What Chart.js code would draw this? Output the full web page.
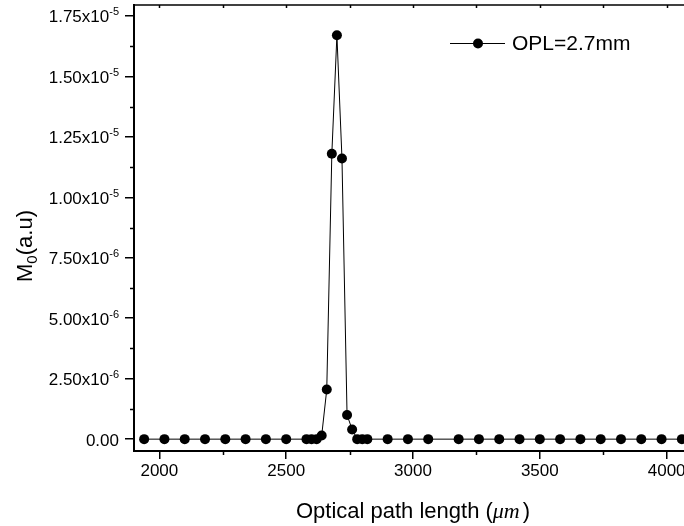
<!DOCTYPE html>
<html>
<head>
<meta charset="utf-8">
<script src="https://cdn.jsdelivr.net/npm/chart.js@4.4.1/dist/chart.umd.min.js"></script>
<style>
  html, body { margin: 0; padding: 0; background: #fff; overflow: hidden; }
  #chart { display: block; }
</style>
</head>
<body>
<canvas id="chart" width="720" height="526"></canvas>
<script>
// optical path length (um) and M0 (a.u)
const opl = [1940, 2020, 2100, 2180, 2260, 2340, 2420, 2500, 2580, 2600, 2620, 2640,
             2660, 2680, 2700, 2720, 2740, 2760, 2780, 2800, 2820, 2900, 2980, 3060,
             3180, 3260, 3340, 3420, 3500, 3580, 3660, 3740, 3820, 3900, 3980, 4060];
const m0 = [0, 0, 0, 0, 0, 0, 0, 0, 0, 0, 0, 1.5e-7,
            2.05e-6, 1.18e-5, 1.67e-5, 1.16e-5, 1.0e-6, 4.0e-7, 0, 0, 0, 0, 0, 0,
            0, 0, 0, 0, 0, 0, 0, 0, 0, 0, 0, 0];
const seriesLabel = 'OPL=2.7mm';

const xTicks = [2000, 2500, 3000, 3500, 4000];
const yTicks = [0, 2.5e-6, 5e-6, 7.5e-6, 1e-5, 1.25e-5, 1.5e-5, 1.75e-5];
const xRange = [1900, 4100];
const yRange = [-4.9e-7, 1.795e-5];

const FONT = '"Liberation Sans", Arial, sans-serif';
const SERIF = '"Liberation Serif", "DejaVu Serif", serif';

// frame, minor ticks, sci-notation labels, titles and legend
const extras = {
    id: 'extras',
    afterDraw(chart) {
        const ctx = chart.ctx;
        const area = chart.chartArea;
        const xs = chart.scales.x;
        const ys = chart.scales.y;
        ctx.save();
        ctx.strokeStyle = '#000';
        ctx.fillStyle = '#000';

        // top frame
        ctx.lineWidth = 1.5;
        ctx.beginPath();
        ctx.moveTo(area.left, area.top);
        ctx.lineTo(area.right, area.top);
        ctx.stroke();

        // x ticks: minor below, all inward on top
        const xStep = xTicks[1] - xTicks[0];
        for (let v = xTicks[0] - xStep / 2; v <= xs.max; v += xStep / 2) {
            if (v < xs.min) continue;
            const px = Math.round(xs.getPixelForValue(v)) + 0.5;
            const major = xTicks.includes(v);
            ctx.beginPath();
            if (!major) {
                ctx.moveTo(px, area.bottom);
                ctx.lineTo(px, area.bottom + 4);
            }
            ctx.moveTo(px, area.top);
            ctx.lineTo(px, area.top + 3);
            ctx.stroke();
        }

        // y minor ticks
        const yStep = yTicks[1] - yTicks[0];
        for (let i = 0; i < yTicks.length; i++) {
            const v = yTicks[i] + yStep / 2;
            if (v > ys.max) continue;
            const py = Math.round(ys.getPixelForValue(v)) + 0.5;
            ctx.beginPath();
            ctx.moveTo(area.left, py);
            ctx.lineTo(area.left - 4, py);
            ctx.stroke();
        }

        // y tick labels like 1.75x10^-5
        const right = area.left - 15;
        yTicks.forEach(v => {
            const py = ys.getPixelForValue(v);
            ctx.textBaseline = 'alphabetic';
            ctx.textAlign = 'right';
            if (v === 0) {
                ctx.font = '17px ' + FONT;
                ctx.fillText('0.00', right, py + 6.5);
                return;
            }
            const e = Math.floor(Math.log10(v) + 1e-9);
            const mant = (v / Math.pow(10, e)).toFixed(2);
            ctx.font = '11px ' + FONT;
            const sup = String(e);
            const supW = ctx.measureText(sup).width;
            ctx.fillText(sup, right, py - 0.5);
            ctx.font = '17px ' + FONT;
            ctx.fillText(mant + 'x10', right - supW, py + 6.5);
        });

        // x title with italic um
        const t1 = 'Optical path length (';
        const t2 = '\u03bcm';
        const t3 = ')';
        ctx.textAlign = 'left';
        ctx.font = '22px ' + FONT;
        const w1 = ctx.measureText(t1).width;
        const w3 = ctx.measureText(t3).width;
        ctx.font = 'italic 22px ' + SERIF;
        const w2 = ctx.measureText(t2).width + 3;
        const tx = (area.left + area.right) / 2 - (w1 + w2 + w3) / 2;
        const ty = 518;
        ctx.font = '22px ' + FONT;
        ctx.fillText(t1, tx, ty);
        ctx.font = 'italic 22px ' + SERIF;
        ctx.fillText(t2, tx + w1, ty);
        ctx.font = '22px ' + FONT;
        ctx.fillText(t3, tx + w1 + w2, ty);

        // y title M0(a.u), rotated
        ctx.save();
        ctx.translate(32, 246);
        ctx.rotate(-Math.PI / 2);
        ctx.font = '22px ' + FONT;
        const mW = ctx.measureText('M').width;
        const rest = '(a.u)';
        const rW = ctx.measureText(rest).width;
        ctx.font = '15px ' + FONT;
        const sW = ctx.measureText('0').width;
        const sx = -(mW + sW + rW) / 2;
        ctx.font = '22px ' + FONT;
        ctx.fillText('M', sx, 0);
        ctx.font = '15px ' + FONT;
        ctx.fillText('0', sx + mW, 5);
        ctx.font = '22px ' + FONT;
        ctx.fillText(rest, sx + mW + sW, 0);
        ctx.restore();

        // legend
        const ly = 43.5;
        ctx.lineWidth = 1;
        ctx.beginPath();
        ctx.moveTo(450, ly);
        ctx.lineTo(505, ly);
        ctx.stroke();
        ctx.beginPath();
        ctx.arc(478, ly, 5, 0, Math.PI * 2);
        ctx.fill();
        ctx.font = '21px ' + FONT;
        ctx.textAlign = 'left';
        ctx.fillText(chart.data.datasets[0].label, 512, 50);

        ctx.restore();
    }
};

new Chart(document.getElementById('chart'), {
    type: 'scatter',
    data: {
        datasets: [{
            label: seriesLabel,
            data: opl.map((x, i) => ({ x: x, y: m0[i] })),
            showLine: true,
            borderColor: '#000',
            borderWidth: 1,
            backgroundColor: '#000',
            pointRadius: 5,
            pointBorderWidth: 0,
            pointBackgroundColor: '#000'
        }]
    },
    options: {
        responsive: false,
        animation: false,
        devicePixelRatio: 1,
        layout: { padding: { top: 2, right: 28, left: 0, bottom: 0 } },
        plugins: {
            legend: { display: false },
            tooltip: { enabled: false }
        },
        scales: {
            x: {
                type: 'linear',
                min: xRange[0],
                max: xRange[1],
                afterBuildTicks: s => { s.ticks = xTicks.map(v => ({ value: v })); },
                afterFit: s => { s.height = 75; },
                grid: { drawOnChartArea: false, tickLength: 8, color: '#000', lineWidth: 1.5 },
                border: { display: true, color: '#000', width: 2 },
                ticks: {
                    color: '#000',
                    padding: 2,
                    maxRotation: 0,
                    font: { family: FONT, size: 17 },
                    callback: v => String(v)
                }
            },
            y: {
                type: 'linear',
                min: yRange[0],
                max: yRange[1],
                afterBuildTicks: s => { s.ticks = yTicks.map(v => ({ value: v })); },
                afterFit: s => { s.width = 134; },
                grid: { drawOnChartArea: false, tickLength: 9, color: '#000', lineWidth: 1.5 },
                border: { display: true, color: '#000', width: 2 },
                ticks: { display: false }
            }
        }
    },
    plugins: [extras]
});
</script>
</body>
</html>
